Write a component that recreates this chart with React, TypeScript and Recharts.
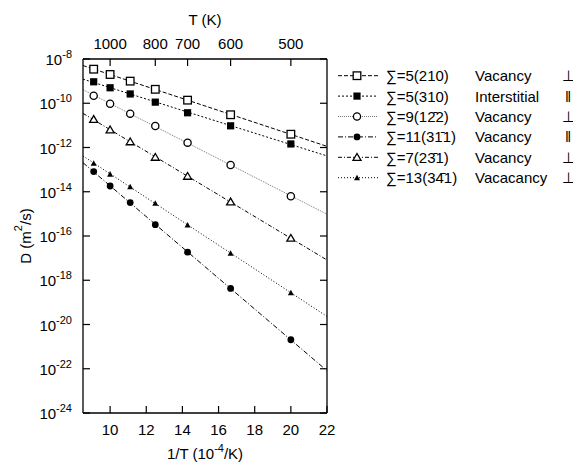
import { ComposedChart, Legend, Line, Scatter, XAxis, YAxis } from "recharts";

// temperatures of the computed points (K) and 1/T in 10^-4/K
const temps = [1100, 1000, 900, 800, 700, 600, 500];
const invT = temps.map((t) => 1e4 / t);

// log10 of D (m^2/s)
const logD_s5_210 = [-8.46, -8.7, -9.0, -9.37, -9.86, -10.52, -11.4];
const logD_s5_310 = [-9.03, -9.3, -9.58, -9.95, -10.43, -11.02, -11.84];
const logD_s9_122 = [-9.66, -10.02, -10.47, -11.03, -11.78, -12.79, -14.2];
const logD_s11_311 = [-13.09, -13.74, -14.49, -15.49, -16.73, -18.37, -20.69];
const logD_s7_231 = [-10.73, -11.2, -11.74, -12.44, -13.3, -14.46, -16.1];
const logD_s13_341 = [-12.71, -13.2, -13.77, -14.52, -15.5, -16.78, -18.56];

const xDomain = [8.5, 22];
const xTicks = [10, 12, 14, 16, 18, 20, 22];
const yTicks = [-24, -22, -20, -18, -16, -14, -12, -10, -8];
const topTemps = [1000, 800, 700, 600, 500];

type MarkerKind = "sqOpen" | "sqFill" | "ciOpen" | "ciFill" | "trOpen" | "trFill";

const series: {
  name: string;
  mech: string;
  orient: string;
  values: number[];
  marker: MarkerKind;
  dash: string;
  color: string;
}[] = [
  { name: "∑=5(210)", mech: "Vacancy", orient: "⊥", values: logD_s5_210, marker: "sqOpen", dash: "4 2", color: "#000" },
  { name: "∑=5(310)", mech: "Interstitial", orient: "‖", values: logD_s5_310, marker: "sqFill", dash: "2 2", color: "#000" },
  { name: "∑=9(12\u03042)", mech: "Vacancy", orient: "⊥", values: logD_s9_122, marker: "ciOpen", dash: "1 1", color: "#777" },
  { name: "∑=11(31\u03041)", mech: "Vacancy", orient: "‖", values: logD_s11_311, marker: "ciFill", dash: "5 2 1 2", color: "#000" },
  { name: "∑=7(23\u03041)", mech: "Vacancy", orient: "⊥", values: logD_s7_231, marker: "trOpen", dash: "4 2 1 2", color: "#000" },
  { name: "∑=13(34\u03041)", mech: "Vacacancy", orient: "⊥", values: logD_s13_341, marker: "trFill", dash: "1 2", color: "#000" },
];

// straight Arrhenius fit (least squares in log space) across the whole x range
function fitLine(ys: number[]) {
  const n = ys.length;
  const mx = invT.reduce((s, v) => s + v, 0) / n;
  const my = ys.reduce((s, v) => s + v, 0) / n;
  let sxy = 0;
  let sxx = 0;
  invT.forEach((x, i) => {
    sxy += (x - mx) * (ys[i] - my);
    sxx += (x - mx) * (x - mx);
  });
  const b = sxy / sxx;
  const a = my - b * mx;
  return xDomain.map((x) => ({ x, y: a + b * x }));
}

const FONT = "'Liberation Sans', Arial, Helvetica, sans-serif";

function Marker({ kind, cx, cy }: { kind: MarkerKind; cx: number; cy: number }) {
  switch (kind) {
    case "sqOpen":
      return <rect x={cx - 3.8} y={cy - 3.8} width={7.6} height={7.6} fill="#fff" stroke="#000" strokeWidth={1.3} />;
    case "sqFill":
      return <rect x={cx - 3.6} y={cy - 3.6} width={7.2} height={7.2} fill="#000" />;
    case "ciOpen":
      return <circle cx={cx} cy={cy} r={3.6} fill="#fff" stroke="#000" strokeWidth={1.3} />;
    case "ciFill":
      return <circle cx={cx} cy={cy} r={3.4} fill="#000" />;
    case "trOpen":
      return (
        <path
          d={`M${cx - 4},${cy + 3} L${cx + 4},${cy + 3} L${cx},${cy - 3.8} Z`}
          fill="#fff"
          stroke="#000"
          strokeWidth={1.3}
        />
      );
    default:
      return <path d={`M${cx - 3},${cy + 2.6} L${cx + 3},${cy + 2.6} L${cx},${cy - 3} Z`} fill="#000" />;
  }
}

const BottomTick = ({ x, y, payload }: any) => (
  <g>
    <line x1={x} y1={y} x2={x} y2={y - 7} stroke="#000" strokeWidth={1.2} />
    <text x={x} y={y + 22} textAnchor="middle" fontSize={15} fontFamily={FONT} fill="#000">
      {payload.value}
    </text>
  </g>
);

const TopTick = ({ x, y, payload }: any) => (
  <g>
    <line x1={x} y1={y} x2={x} y2={y + 7} stroke="#000" strokeWidth={1.2} />
    <text x={x} y={y - 10.5} textAnchor="middle" fontSize={15} fontFamily={FONT} fill="#000">
      {Math.round(1e4 / payload.value)}
    </text>
  </g>
);

const LeftTick = ({ x, y, payload }: any) => (
  <g>
    <line x1={x} y1={y} x2={x + 7} y2={y} stroke="#000" strokeWidth={1.2} />
    <text x={x - 11} y={y + 6} textAnchor="end" fontSize={15} fontFamily={FONT} fill="#000">
      10
      <tspan fontSize={11} dy={-7}>
        {payload.value}
      </tspan>
    </text>
  </g>
);

const RightTick = ({ x, y }: any) => (
  <line x1={x} y1={y} x2={x - 7} y2={y} stroke="#000" strokeWidth={1.2} />
);

const renderLegend = () => (
  <svg width={246} height={130} style={{ display: "block" }}>
    {series.map((s, i) => {
      const cy = 12.7 + i * 20.4;
      return (
        <g key={s.name} fontFamily={FONT} fontSize={15} fill="#000">
          <line x1={3} y1={cy} x2={43} y2={cy} stroke={s.color} strokeWidth={1} strokeDasharray={s.dash} />
          <Marker kind={s.marker} cx={22} cy={cy} />
          <text x={51} y={cy + 5.5}>{s.name}</text>
          <text x={140} y={cy + 5.5}>{s.mech}</text>
          <text x={233} y={cy + 5.5} textAnchor="middle">
            {s.orient}
          </text>
        </g>
      );
    })}
  </svg>
);

export default function App() {
  return (
    <div style={{ fontFamily: FONT }}>
      <ComposedChart width={573} height={456} margin={{ top: 0, right: 244, bottom: 0, left: 0 }}>
        <XAxis
          xAxisId="b"
          dataKey="x"
          type="number"
          domain={xDomain}
          ticks={xTicks}
          interval={0}
          allowDataOverflow
          height={51}
          tickSize={0}
          tickMargin={0}
          tickLine={false}
          tick={BottomTick}
          axisLine={{ stroke: "#000", strokeWidth: 1.3 }}
          label={({ viewBox }: any) => (
            <text x={viewBox.x + viewBox.width / 2} y={viewBox.y + 46} textAnchor="middle" fontSize={15} fontFamily={FONT}>
              1/T (10
              <tspan fontSize={11} dy={-7}>
                -4
              </tspan>
              <tspan dy={7}>/K)</tspan>
            </text>
          )}
        />
        <XAxis
          xAxisId="t"
          orientation="top"
          dataKey="x"
          type="number"
          domain={xDomain}
          ticks={topTemps.map((t) => 1e4 / t)}
          interval={0}
          allowDataOverflow
          height={51}
          tickSize={0}
          tickMargin={0}
          tickLine={false}
          tick={TopTick}
          axisLine={{ stroke: "#000", strokeWidth: 1.3 }}
          label={({ viewBox }: any) => (
            <text x={viewBox.x + viewBox.width / 2} y={17} textAnchor="middle" fontSize={15} fontFamily={FONT}>
              T (K)
            </text>
          )}
        />
        <YAxis
          yAxisId="l"
          dataKey="y"
          type="number"
          domain={[-24, -8]}
          ticks={yTicks}
          interval={0}
          allowDataOverflow
          width={75}
          tickSize={0}
          tickMargin={0}
          tickLine={false}
          tick={LeftTick}
          axisLine={{ stroke: "#000", strokeWidth: 1.3 }}
          label={({ viewBox }: any) => {
            const cx = viewBox.x + 17;
            const cy = viewBox.y + viewBox.height / 2;
            return (
              <text
                x={cx}
                y={cy}
                transform={`rotate(-90 ${cx} ${cy})`}
                textAnchor="middle"
                dominantBaseline="central"
                fontSize={15}
                fontFamily={FONT}
              >
                D (m
                <tspan fontSize={11} dy={-7}>
                  2
                </tspan>
                <tspan dy={7}>/s)</tspan>
              </text>
            );
          }}
        />
        <YAxis
          yAxisId="r"
          orientation="right"
          dataKey="y"
          type="number"
          domain={[-24, -8]}
          ticks={yTicks}
          interval={0}
          allowDataOverflow
          width={10}
          tickSize={0}
          tickMargin={0}
          tickLine={false}
          tick={RightTick}
          axisLine={{ stroke: "#000", strokeWidth: 1.3 }}
        />
        {series.map((s) => (
          <Line
            key={`fit-${s.name}`}
            xAxisId="b"
            yAxisId="l"
            data={fitLine(s.values)}
            dataKey="y"
            stroke={s.color}
            strokeWidth={1}
            strokeDasharray={s.dash}
            dot={false}
            activeDot={false}
            legendType="none"
            isAnimationActive={false}
          />
        ))}
        {series.map((s) => (
          <Scatter
            key={`pts-${s.name}`}
            xAxisId="b"
            yAxisId="l"
            data={invT.map((x, i) => ({ x, y: s.values[i] }))}
            dataKey="y"
            shape={(p: any) => <Marker kind={s.marker} cx={p.cx} cy={p.cy} />}
            legendType="none"
            isAnimationActive={false}
          />
        ))}
        <Legend
          layout="vertical"
          align="center"
          verticalAlign="middle"
          wrapperStyle={{ left: 327, top: 55, width: 246 }}
          content={renderLegend}
        />
      </ComposedChart>
    </div>
  );
}
